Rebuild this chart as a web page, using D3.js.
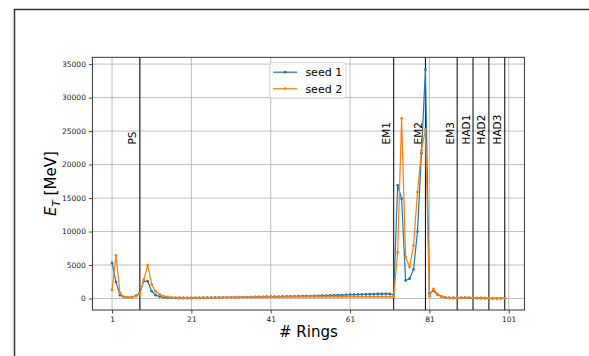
<!DOCTYPE html>
<html>
<head>
<meta charset="utf-8">
<script src="https://cdn.jsdelivr.net/npm/d3@7"></script>
<style>
  body { margin: 0; background: #fff; }
  svg { display: block; font-family: "DejaVu Sans", sans-serif; }
</style>
</head>
<body>
<div id="chart"></div>
<script>
// ring index 1..100
const rings = d3.range(1, 101);

const seed1 = [
  5300, 2450, 500, 200, 180, 200, 400, 800, 2600, 2550,
  1100, 500, 300, 180, 130, 100, 90, 80, 80, 80,
  90, 100, 110, 120, 130, 140, 150, 160, 170, 170,
  180, 190, 200, 210, 220, 220, 230, 240, 250, 260,
  270, 280, 290, 300, 310, 320, 330, 340, 350, 360,
  370, 390, 400, 420, 440, 460, 480, 500, 520, 540,
  560, 580, 600, 620, 640, 650, 670, 680, 690, 700,
  680, 550, 16900, 14900, 2700, 2950, 4350, 10000, 21700, 34200,
  800, 1150, 600, 300, 150, 100, 80, 70, 100, 120,
  110, 80, 60, 70, 50, 40, 40, 30, 30, 30
];

const seed2 = [
  1300, 6450, 800, 250, 200, 200, 350, 650, 2800, 5000,
  2100, 1050, 600, 350, 250, 180, 140, 120, 110, 100,
  100, 110, 120, 125, 130, 135, 140, 145, 150, 155,
  160, 165, 170, 175, 180, 185, 190, 195, 200, 205,
  210, 215, 220, 225, 230, 235, 240, 245, 250, 255,
  260, 262, 265, 268, 270, 272, 275, 278, 280, 282,
  285, 288, 290, 292, 295, 295, 295, 290, 285, 280,
  270, 250, 6900, 26900, 6200, 4700, 7900, 15900, 22100, 25200,
  350, 1450, 700, 350, 180, 100, 80, 80, 120, 150,
  140, 100, 60, 80, 50, 40, 30, 30, 30, 30
];

const seriesNames = ['seed 1', 'seed 2'];
const seriesColors = ['#1f77b4', '#ff7f0e'];

// detector boundaries
const boundaryRings = [8, 72, 80, 88, 92, 96, 100];
const boundaryLabels = ['PS', 'EM1', 'EM2', 'EM3', 'HAD1', 'HAD2', 'HAD3'];

const xTicks = [1, 21, 41, 61, 81, 101];
const yTicks = [0, 5000, 10000, 15000, 20000, 25000, 30000, 35000];

const W = 589, H = 356;
const plot = { left: 92.4, right: 524.4, top: 57.3, bottom: 310 };

const svg = d3.select('#chart')
    .append('svg')
    .attr('width', W)
    .attr('height', H);

// outer frame
svg.append('rect')
    .attr('x', 14.5).attr('y', 9.5)
    .attr('width', W).attr('height', H)
    .attr('fill', 'none')
    .attr('stroke', '#333')
    .attr('stroke-width', 1.5);

const x = d3.scaleLinear()
    .domain([-3.95, 104.95])
    .range([plot.left, plot.right]);

const y = d3.scaleLinear()
    .domain([-1715, 36015])
    .range([plot.bottom, plot.top]);

// grid
const grid = svg.append('g').attr('class', 'grid');
grid.selectAll('.gx')
    .data(xTicks)
    .enter()
    .append('line')
    .attr('x1', d => x(d)).attr('x2', d => x(d))
    .attr('y1', plot.top).attr('y2', plot.bottom)
    .attr('stroke', '#b0b0b0')
    .attr('stroke-width', 0.8);
grid.selectAll('.gy')
    .data(yTicks)
    .enter()
    .append('line')
    .attr('x1', plot.left).attr('x2', plot.right)
    .attr('y1', d => y(d)).attr('y2', d => y(d))
    .attr('stroke', '#b0b0b0')
    .attr('stroke-width', 0.8);

// axes
const xAxis = d3.axisBottom(x).tickValues(xTicks).tickSize(3.5).tickPadding(3).tickFormat(d3.format('d'));
const yAxis = d3.axisLeft(y).tickValues(yTicks).tickSize(3.5).tickPadding(3).tickFormat(d3.format('d'));

const gx = svg.append('g')
    .attr('transform', `translate(0, ${plot.bottom})`)
    .call(xAxis);
const gy = svg.append('g')
    .attr('transform', `translate(${plot.left}, 0)`)
    .call(yAxis);

[gx, gy].forEach(g => {
    g.select('.domain').remove();
    g.selectAll('.tick line').attr('stroke', '#222').attr('stroke-width', 0.8);
    g.selectAll('.tick text')
        .attr('fill', '#222')
        .style('font-size', '7.5px')
        .style('font-family', '"DejaVu Sans", sans-serif');
});

// boundary lines
svg.selectAll('.boundary')
    .data(boundaryRings)
    .enter()
    .append('line')
    .attr('class', 'boundary')
    .attr('x1', d => x(d)).attr('x2', d => x(d))
    .attr('y1', plot.top).attr('y2', plot.bottom)
    .attr('stroke', (d, i) => i === 0 ? '#555' : '#000')
    .attr('stroke-width', (d, i) => i === 0 ? 1.6 : 1);

svg.selectAll('.boundary-label')
    .data(boundaryRings)
    .enter()
    .append('text')
    .attr('class', 'boundary-label')
    .attr('transform', d => `translate(${x(d) - 3.5}, ${y(23000)}) rotate(-90)`)
    .attr('text-anchor', 'start')
    .style('font-size', '10.5px')
    .attr('fill', '#000')
    .text((d, i) => boundaryLabels[i]);

// series
const seriesData = [seed1, seed2];
const line = d3.line()
    .x((d, i) => x(rings[i]))
    .y(d => y(d));

seriesData.forEach((vals, k) => {
    const g = svg.append('g').attr('class', `series series${k}`);
    g.append('path')
        .datum(vals)
        .attr('d', line)
        .attr('fill', 'none')
        .attr('stroke', seriesColors[k])
        .attr('stroke-width', 1.2);
    g.selectAll('circle')
        .data(vals)
        .enter()
        .append('circle')
        .attr('cx', (d, i) => x(rings[i]))
        .attr('cy', d => y(d))
        .attr('r', 1.4)
        .attr('fill', seriesColors[k]);
});

// spines
svg.append('rect')
    .attr('x', plot.left).attr('y', plot.top)
    .attr('width', plot.right - plot.left)
    .attr('height', plot.bottom - plot.top)
    .attr('fill', 'none')
    .attr('stroke', '#222')
    .attr('stroke-width', 0.9);

// legend
const legend = svg.append('g').attr('transform', 'translate(269.7, 62.7)');
legend.append('rect')
    .attr('width', 76.3).attr('height', 35.6)
    .attr('rx', 2)
    .attr('fill', 'rgba(255,255,255,0.8)')
    .attr('stroke', '#ccc')
    .attr('stroke-width', 0.8);
seriesNames.forEach((name, k) => {
    const ly = 9.5 + k * 16.5;
    legend.append('line')
        .attr('x1', 3.5).attr('x2', 27.5)
        .attr('y1', ly).attr('y2', ly)
        .attr('stroke', seriesColors[k])
        .attr('stroke-width', 1.2);
    legend.append('circle')
        .attr('cx', 15.5).attr('cy', ly).attr('r', 1.4)
        .attr('fill', seriesColors[k]);
    legend.append('text')
        .attr('x', 35.7).attr('y', ly)
        .attr('dy', '0.35em')
        .style('font-size', '11px')
        .attr('fill', '#000')
        .text(name);
});

// axis titles
svg.append('text')
    .attr('x', (plot.left + plot.right) / 2)
    .attr('y', 337)
    .attr('text-anchor', 'middle')
    .style('font-size', '15px')
    .text('# Rings');

const yl = svg.append('text')
    .attr('transform', `translate(56, ${(plot.top + plot.bottom) / 2}) rotate(-90)`)
    .attr('text-anchor', 'middle')
    .style('font-size', '15px');
yl.append('tspan').style('font-style', 'italic').text('E');
yl.append('tspan').attr('dy', 3.5).style('font-style', 'italic').style('font-size', '10.5px').text('T');
yl.append('tspan').attr('dy', -3.5).text(' [MeV]');
</script>
</body>
</html>
